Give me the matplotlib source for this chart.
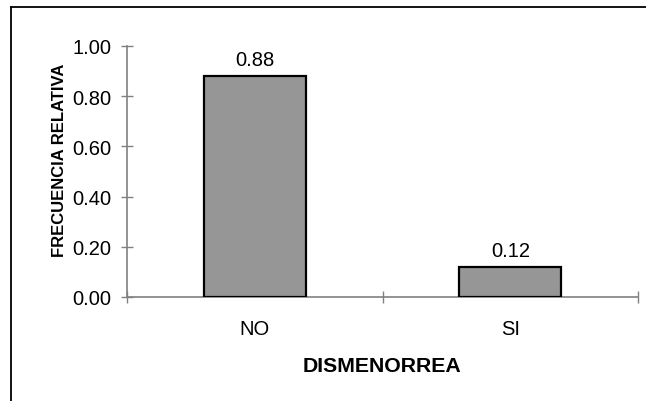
import matplotlib
matplotlib.use('Agg')
import matplotlib.pyplot as plt
from matplotlib.lines import Line2D
import numpy as np

plt.rcParams['font.family'] = ['Liberation Sans', 'DejaVu Sans']

# data
categories = ['NO', 'SI']
freq_rel = [0.88, 0.12]
y_ticks = [0.0, 0.2, 0.4, 0.6, 0.8, 1.0]

BAR_COLOR = '#969696'
AXIS_COLOR = '#808080'

fig = plt.figure(figsize=(6.46, 4.02), dpi=100)
ax = fig.add_axes([127 / 646, 1 - 298 / 402, 511 / 646, 251 / 402])

x = np.arange(len(categories))
bars = ax.bar(x, freq_rel, width=0.40, color=BAR_COLOR,
              edgecolor='black', linewidth=1.6, zorder=3)

for bar, v in zip(bars, freq_rel):
    ax.annotate(f'{v:.2f}', xy=(bar.get_x() + bar.get_width() / 2, v),
                xytext=(0, 5), textcoords='offset points',
                ha='center', va='bottom', fontsize=14.5)

ax.set_xlim(-0.5, 1.5)
ax.set_ylim(0, 1.0)

# y axis
ax.set_yticks(y_ticks)
ax.set_yticklabels([f'{t:.2f}' for t in y_ticks])
ax.tick_params(axis='y', direction='inout', length=9, width=1,
               color=AXIS_COLOR, labelsize=14.5, pad=7)

# x axis: marks on category boundaries, labels at centres
ax.set_xticks([-0.5, 0.5, 1.5])
ax.set_xticklabels([])
ax.set_xticks(x, minor=True)
ax.set_xticklabels(categories, minor=True)
ax.tick_params(axis='x', which='major', direction='inout', length=9,
               width=1, color=AXIS_COLOR)
ax.tick_params(axis='x', which='minor', length=0, labelsize=14.5, pad=16)

for side in ['top', 'right']:
    ax.spines[side].set_visible(False)
for side in ['left', 'bottom']:
    ax.spines[side].set_color(AXIS_COLOR)
    ax.spines[side].set_linewidth(1.2)

ax.set_ylabel('FRECUENCIA RELATIVA', fontsize=12, fontweight='bold')
ax.yaxis.set_label_coords(-0.118, 0.55)
ax.set_xlabel('DISMENORREA', fontsize=15.3, fontweight='bold')
ax.xaxis.set_label_coords(0.5, -0.236)

# outer chart frame (only top and left edges are visible)
fig.add_artist(Line2D([11 / 646, 1.0], [1 - 8 / 402, 1 - 8 / 402],
                      transform=fig.transFigure, color='black', lw=1.3))
fig.add_artist(Line2D([11 / 646, 11 / 646], [0.0, 1 - 8 / 402],
                      transform=fig.transFigure, color='black', lw=1.3))

fig.savefig('out.png', dpi=100)
plt.close(fig)
